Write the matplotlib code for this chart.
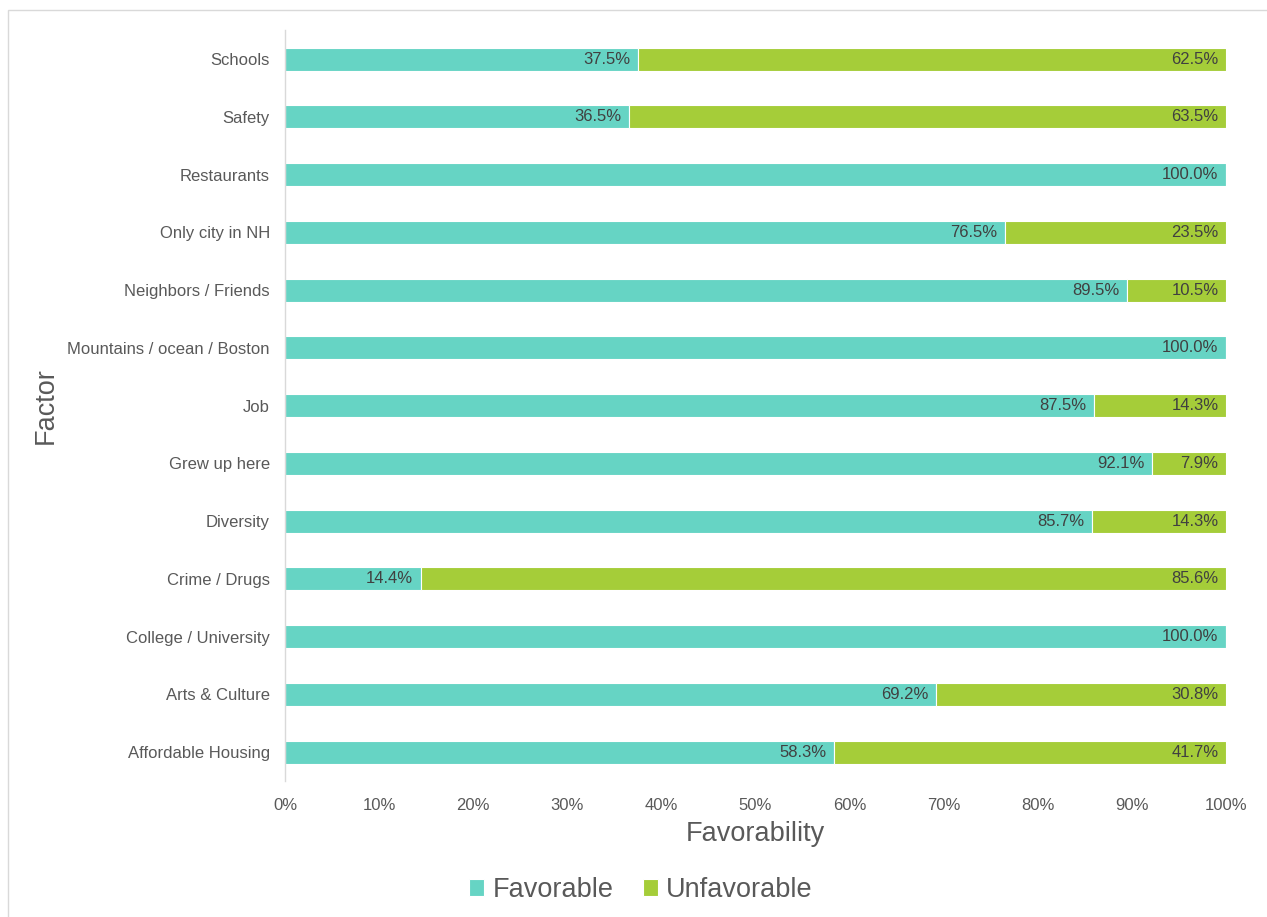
import matplotlib
matplotlib.use("Agg")
import matplotlib.pyplot as plt
from matplotlib.patches import Rectangle
import numpy as np

# datos (de abajo hacia arriba)
factores = ["Affordable Housing", "Arts & Culture", "College / University", "Crime / Drugs",
            "Diversity", "Grew up here", "Job", "Mountains / ocean / Boston",
            "Neighbors / Friends", "Only city in NH", "Restaurants", "Safety", "Schools"]
favorable = [58.3, 69.2, 100.0, 14.4, 85.7, 92.1, 87.5, 100.0, 89.5, 76.5, 100.0, 36.5, 37.5]
desfavorable = [41.7, 30.8, 0.0, 85.6, 14.3, 7.9, 14.3, 0.0, 10.5, 23.5, 0.0, 63.5, 62.5]

color_fav = "#66D4C4"
color_desf = "#A5CD39"
gris = "#595959"

plt.rcParams['font.family'] = ['Liberation Sans', 'DejaVu Sans']

fig = plt.figure(figsize=(12.67, 9.17), dpi=100)
ax = fig.add_axes([0.225, 0.1483, 0.7427, 0.8187])

# barras apiladas al 100%
fav = np.array(favorable)
desf = np.array(desfavorable)
total = fav + desf
fav_n = fav / total
desf_n = desf / total
y = np.arange(len(factores))

b1 = ax.barh(y, fav_n, height=0.4, color=color_fav, edgecolor="white", linewidth=0.8, label="Favorable")
b2 = ax.barh(y, desf_n, left=fav_n, height=0.4, color=color_desf, edgecolor="white", linewidth=0.8, label="Unfavorable")

# etiquetas de datos
for i in range(len(factores)):
    if fav[i] > 0:
        ax.text(fav_n[i] - 0.008, y[i], f"{fav[i]:.1f}%", ha="right", va="center", fontsize=12, color="#404040")
    if desf[i] > 0:
        ax.text(1 - 0.008, y[i], f"{desf[i]:.1f}%", ha="right", va="center", fontsize=12, color="#404040")

ax.set_xlim(0, 1)
ax.set_ylim(-0.5, len(factores) - 0.5)
ax.set_xticks(np.arange(0, 1.01, 0.1))
ax.set_xticklabels([f"{int(round(t * 100))}%" for t in np.arange(0, 1.01, 0.1)])
ax.set_yticks(y)
ax.set_yticklabels(factores)
ax.tick_params(axis="both", length=0, labelsize=12, colors=gris)
ax.tick_params(axis="y", pad=11)
ax.tick_params(axis="x", pad=12)

for s in ["top", "right", "bottom"]:
    ax.spines[s].set_visible(False)
ax.spines["left"].set_color("#D9D9D9")
ax.spines["left"].set_linewidth(1)

ax.set_xlabel("Favorability", fontsize=19.5, color=gris, labelpad=6)
ax.set_ylabel("Factor", fontsize=19.5, color=gris)
ax.yaxis.set_label_coords(-0.241, 0.5)

leg = fig.legend(handles=[b1, b2], loc="center", bbox_to_anchor=(0.506, 1 - 890 / 917), ncol=2,
                 frameon=False, fontsize=19.5, handlelength=0.55, handleheight=0.55,
                 handletextpad=0.3, columnspacing=1.1)
for t in leg.get_texts():
    t.set_color(gris)

# borde del gráfico
fig.patches.append(Rectangle((8 / 1267, -0.05), 1.1, 1 - 10 / 917 + 0.05, transform=fig.transFigure,
                             fill=False, edgecolor="#D9D9D9", linewidth=1))

fig.savefig("out.png", dpi=100)
